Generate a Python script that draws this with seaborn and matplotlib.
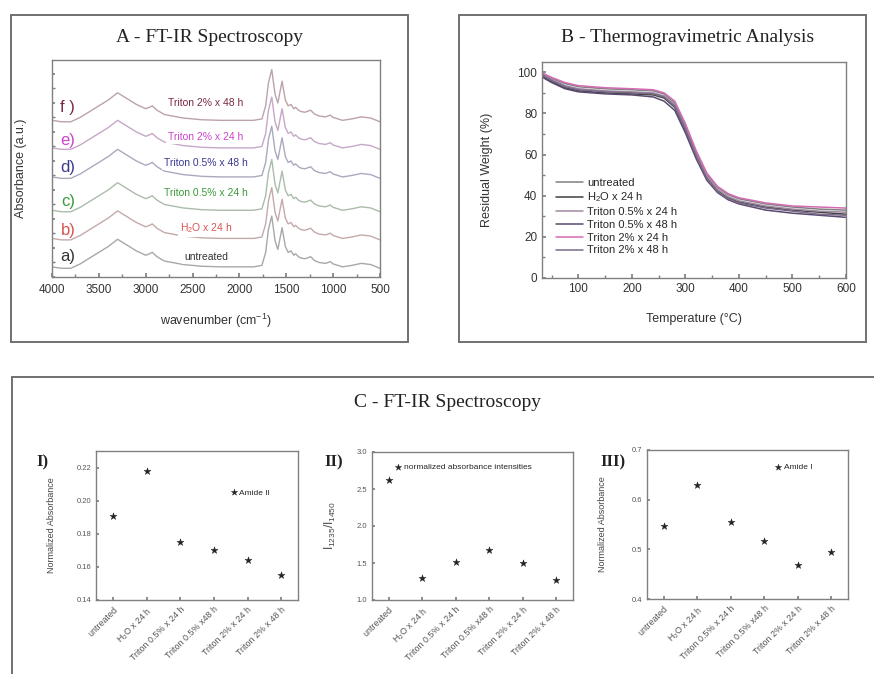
import numpy as np
import matplotlib
matplotlib.use("Agg")
import matplotlib.pyplot as plt
from matplotlib.patches import Rectangle
from matplotlib.ticker import MultipleLocator
import seaborn as sns
import pandas as pd

sns.set_theme(style="white")
plt.rcParams['font.family'] = ['Liberation Sans', 'DejaVu Sans']
plt.rcParams.update({
    'axes.edgecolor': '#808080', 'axes.linewidth': 1.0,
    'xtick.direction': 'in', 'ytick.direction': 'in',
    'xtick.color': '#808080', 'ytick.color': '#808080',
    'xtick.labelcolor': '#333333', 'ytick.labelcolor': '#333333',
    'xtick.major.size': 3, 'ytick.major.size': 3,
    'xtick.minor.size': 2, 'ytick.minor.size': 2,
    'xtick.bottom': True, 'ytick.left': True,
    'mathtext.default': 'regular',
})

# ---------------- data ----------------
samples = ["untreated", "H$_2$O x 24 h", "Triton 0.5% x 24 h",
           "Triton 0.5% x 48 h", "Triton 2% x 24 h", "Triton 2% x 48 h"]
letters = ["a)", "b)", "c)", "d)", "e)", "f )"]
sample_colors = ["#333333", "#d9534f", "#3a9a3a", "#3a3a8f", "#cc44cc", "#7a2a40"]
curve_colors = ["#a8a8a8", "#c4aaaa", "#aabcaa", "#aaaabf", "#c6a8c6", "#bca2aa"]

# FT-IR: base spectrum (a.u.), and stacking offsets
ir_wavenumber = [4000, 3900, 3800, 3700, 3600, 3500, 3400, 3300, 3250, 3200, 3100,
                 3000, 2960, 2930, 2880, 2800, 2600, 2400, 2200, 2000, 1850, 1760,
                 1720, 1690, 1655, 1620, 1590, 1545, 1510, 1480, 1450, 1420, 1400,
                 1370, 1340, 1300, 1240, 1200, 1150, 1080, 1030, 1000, 950, 900,
                 800, 700, 600, 500]
ir_absorbance = [0.0, -0.05, -0.05, 0.1, 0.3, 0.5, 0.7, 0.95, 0.85, 0.75, 0.55,
                 0.4, 0.45, 0.5, 0.35, 0.2, 0.08, 0.02, 0.0, 0.0, 0.0, 0.05,
                 0.5, 1.3, 1.75, 0.9, 0.6, 1.35, 0.7, 0.5, 0.55, 0.4, 0.45,
                 0.35, 0.3, 0.28, 0.35, 0.22, 0.15, 0.12, 0.18, 0.1, 0.05, 0.0,
                 0.05, 0.12, 0.08, -0.05]
ir_offsets = [0.35, 1.33, 2.3, 3.45, 4.45, 5.4]

# TGA
tga_temp = [30, 50, 75, 100, 150, 200, 240, 260, 280, 300, 320, 340, 360, 380,
            400, 450, 500, 550, 600]
tga_untreated = [99.5, 97.0, 94.5, 93.0, 92.0, 91.5, 91.0, 89.5, 85.0, 74.0, 61.0,
                 50.5, 44.0, 40.5, 38.5, 36.0, 34.5, 33.5, 33.0]
tga_h2o = [98.5, 95.5, 92.5, 91.0, 90.0, 89.5, 89.0, 87.5, 83.0, 72.0, 59.5,
           49.0, 42.5, 39.0, 37.0, 34.5, 33.0, 32.0, 31.0]
tga_t05_24 = [99.0, 96.5, 93.5, 92.0, 91.0, 90.5, 90.0, 88.5, 84.0, 73.0, 60.0,
              49.5, 43.0, 39.5, 37.5, 35.0, 33.5, 32.5, 32.0]
tga_t05_48 = [98.0, 95.0, 92.0, 90.5, 89.5, 89.0, 88.0, 86.0, 81.5, 70.5, 58.0,
              47.5, 41.5, 38.0, 36.0, 33.0, 31.5, 30.5, 29.5]
tga_t2_24 = [100.0, 97.5, 95.0, 93.5, 92.5, 92.0, 91.5, 90.0, 86.0, 75.0, 62.0,
             51.0, 44.5, 41.0, 39.0, 36.5, 35.0, 34.5, 34.0]
tga_t2_48 = [99.0, 96.0, 93.0, 91.5, 90.5, 90.0, 89.5, 88.0, 83.5, 72.5, 59.5,
             48.5, 42.0, 38.5, 36.5, 34.0, 32.5, 31.0, 30.5]
tga_series = [tga_untreated, tga_h2o, tga_t05_24, tga_t05_48, tga_t2_24, tga_t2_48]
tga_colors = ["#808080", "#404040", "#a08aa0", "#5a4a6e", "#d46cb4", "#7a6a8a"]

# Panel C
cat_labels = ["untreated", "H$_2$O x 24 h", "Triton 0.5% x 24 h",
              "Triton 0.5% x48 h", "Triton 2% x 24 h", "Triton 2% x 48 h"]
amide_ii = [0.191, 0.218, 0.175, 0.170, 0.164, 0.155]
ratio = [2.62, 1.30, 1.51, 1.68, 1.50, 1.27]
amide_i = [0.547, 0.629, 0.555, 0.517, 0.468, 0.494]

# ---------------- figure ----------------
W, H = 874, 674
fig = plt.figure(figsize=(W / 100, H / 100), dpi=100)
fig.patch.set_facecolor('white')

def fr(x0, y0, x1, y1):
    return [x0 / W, 1 - y1 / H, (x1 - x0) / W, (y1 - y0) / H]

def box(x0, y0, x1, y1):
    fig.add_artist(Rectangle((x0 / W, 1 - y1 / H), (x1 - x0) / W, (y1 - y0) / H,
                             transform=fig.transFigure, fill=False,
                             edgecolor='#707070', lw=1.4))

box(11, 15, 408, 342)
box(459, 15, 866, 342)
box(12, 377, 890, 700)

serif = ['Liberation Serif', 'DejaVu Serif']
fig.text(210 / W, 1 - 37 / H, "A - FT-IR Spectroscopy", family=serif, fontsize=14,
         ha='center', va='center', color='#222222')
fig.text(688 / W, 1 - 37 / H, "B - Thermogravimetric Analysis", family=serif,
         fontsize=14, ha='center', va='center', color='#222222')
fig.text(448 / W, 1 - 402 / H, "C - FT-IR Spectroscopy", family=serif, fontsize=14,
         ha='center', va='center', color='#222222')

# ---- Panel A ----
axA = fig.add_axes(fr(52, 60, 380, 277))
base = np.array(ir_absorbance)
for i in range(6):
    sns.lineplot(x=ir_wavenumber, y=base + ir_offsets[i], ax=axA,
                 color=curve_colors[i], lw=1.0, sort=False, estimator=None)
label_y = [0.69, 1.69, 2.9, 3.93, 4.83, 6.0]
letter_y = [0.69, 1.62, 2.59, 3.79, 4.72, 5.83]
for i in range(6):
    axA.text(2357, label_y[i], samples[i], color=sample_colors[i], fontsize=7.5,
             ha='center', va='center',
             bbox=dict(facecolor='white', edgecolor='none', pad=1.5))
    axA.text(3830, letter_y[i], letters[i], color=sample_colors[i], fontsize=12,
             ha='center', va='center')
axA.set_xlim(4000, 500)
axA.set_ylim(0, 7.48)
axA.xaxis.set_major_locator(MultipleLocator(500))
axA.xaxis.set_minor_locator(MultipleLocator(250))
axA.yaxis.set_major_locator(MultipleLocator(1))
axA.yaxis.set_minor_locator(MultipleLocator(0.5))
axA.set_yticklabels([])
axA.tick_params(axis='x', labelsize=8.5, pad=5)
axA.tick_params(axis='y', which='both', length=2)
axA.set_xlabel("wavenumber (cm$^{-1}$)", fontsize=9, color='#333333')
axA.xaxis.set_label_coords(0.5, -0.16)
axA.set_ylabel("Absorbance (a.u.)", fontsize=9, color='#333333')
axA.yaxis.set_label_coords(-0.075, 0.5)

# ---- Panel B ----
axB = fig.add_axes(fr(542, 62, 846, 278))
legend_names = ["untreated", "H$_2$O x 24 h", "Triton 0.5% x 24 h",
                "Triton 0.5% x 48 h", "Triton 2% x 24 h", "Triton 2% x 48 h"]
for s, c, n in zip(tga_series, tga_colors, legend_names):
    sns.lineplot(x=tga_temp, y=s, ax=axB, color=c, lw=1.1, label=n,
                 sort=False, estimator=None)
axB.set_xlim(32, 600)
axB.set_ylim(0, 105)
axB.xaxis.set_major_locator(MultipleLocator(100))
axB.xaxis.set_minor_locator(MultipleLocator(50))
axB.yaxis.set_major_locator(MultipleLocator(20))
axB.yaxis.set_minor_locator(MultipleLocator(10))
axB.tick_params(labelsize=8.5)
axB.set_xlabel("Temperature (°C)", fontsize=9, color='#333333')
axB.xaxis.set_label_coords(0.5, -0.16)
axB.set_ylabel("Residual Weight (%)", fontsize=9, color='#333333')
axB.yaxis.set_label_coords(-0.16, 0.5)
axB.legend(loc='upper left', bbox_to_anchor=(0.02, 0.5), frameon=False,
           fontsize=8, handlelength=2.4, labelspacing=0.25, handletextpad=0.4,
           borderpad=0.2)

# ---- Panel C ----
def cpanel(rect, vals, ylim, yticks, fmt, ylabel, ylabel_size, legend_label,
           leg_anchor, tag, tag_xy):
    ax = fig.add_axes(fr(*rect))
    df = pd.DataFrame({"sample": cat_labels, "value": vals})
    sns.scatterplot(data=df, x="sample", y="value", ax=ax, marker='*', s=28,
                    color='#222222', edgecolor='#222222', linewidth=0.3,
                    label=legend_label)
    ax.set_xlim(-0.5, 5.5)
    ax.set_ylim(*ylim)
    ax.set_yticks(yticks)
    ax.set_yticklabels([fmt.format(t) for t in yticks])
    ax.set_xticks(range(6))
    ax.set_xticklabels(cat_labels, rotation=45, ha='right', rotation_mode='anchor',
                       fontsize=6.4, color='#555555')
    ax.tick_params(axis='y', labelsize=5.5, length=2, labelcolor='#555555')
    ax.tick_params(axis='x', length=2)
    ax.set_xlabel("")
    ax.set_ylabel(ylabel, fontsize=ylabel_size, color='#444444')
    ax.legend(loc='center left', bbox_to_anchor=leg_anchor, frameon=False,
              fontsize=6, handlelength=0.8, handletextpad=0.3, borderpad=0.1,
              markerscale=0.9)
    fig.text(tag_xy[0] / W, 1 - tag_xy[1] / H, tag, family=serif, fontsize=12,
             weight='bold', ha='center', va='center', color='#222222')
    return ax

axC1 = cpanel((96, 451, 298, 600), amide_ii, (0.14, 0.23),
              [0.14, 0.16, 0.18, 0.20, 0.22], "{:.2f}", "Normalized Absorbance", 6.5,
              "Amide II", (0.64, 0.72), "I)", (42, 462))
axC1.yaxis.set_label_coords(-0.2, 0.5)
axC2 = cpanel((372, 452, 573, 600), ratio, (1.0, 3.0),
              [1.0, 1.5, 2.0, 2.5, 3.0], "{:.1f}", "I$_{1235}$/I$_{1450}$", 8.5,
              "normalized absorbance intensities", (0.09, 0.9), "II)", (334, 462))
axC2.yaxis.set_label_coords(-0.17, 0.5)
axC3 = cpanel((647, 450, 848, 599), amide_i, (0.4, 0.7),
              [0.4, 0.5, 0.6, 0.7], "{:.1f}", "Normalized Absorbance", 6.5,
              "Amide I", (0.61, 0.886), "III)", (613, 462))
axC3.yaxis.set_label_coords(-0.2, 0.5)

fig.savefig("out.png", dpi=100, facecolor='white')
